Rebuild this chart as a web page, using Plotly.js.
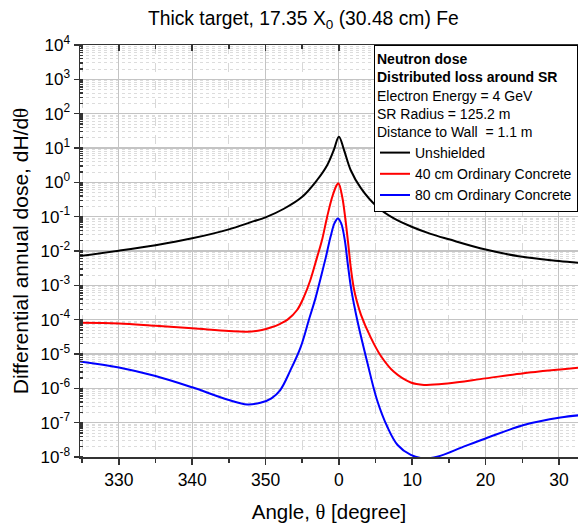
<!DOCTYPE html>
<html>
<head>
<meta charset="utf-8">
<script src="https://cdn.plot.ly/plotly-3.0.1.min.js"></script>
<style>html,body{margin:0;padding:0;background:#fff;}#chart{width:581px;height:523px;}</style>
</head>
<body>
<div id="chart"></div>
<script>
// Angle in degrees relative to 0 (negative values = 325..360 degrees)
const angleBlack = [-35.5,-30,-25,-20,-15,-12,-10,-7.5,-5,-3,-1.6,-0.7,0,0.7,1.6,3,5.2,7.5,10,12.5,15,20,25,30,33.5];
const doseBlack  = [7.08e-3,1.02e-2,1.48e-2,2.34e-2,4.27e-2,6.92e-2,9.55e-2,0.170,0.380,1.15,3.16,8.7,21.4,8.7,2.29,0.676,0.195,0.0891,0.0501,0.0316,0.0219,0.0110,6.76e-3,5.13e-3,4.37e-3];

const angleRed = [-35.5,-30,-25,-20,-15,-12.5,-10.5,-9.3,-8,-7,-5.7,-4.8,-3.9,-3,-2.3,-1.6,-0.9,-0.3,-0.05,0.45,0.9,1.3,1.6,2.0,2.4,3.0,4.3,5.7,7.5,9.8,11.6,14.8,20,25.2,30.2,33.5];
const doseRed  = [8.13e-5,7.76e-5,6.61e-5,5.62e-5,4.68e-5,4.47e-5,5.01e-5,5.89e-5,7.59e-5,1.0e-4,1.91e-4,4.47e-4,1.41e-3,6.31e-3,2.09e-2,0.1,0.380,0.832,0.933,0.380,0.0794,0.0141,3.55e-3,8.91e-4,3.72e-4,1.41e-4,3.16e-5,8.91e-6,3.02e-6,1.48e-6,1.26e-6,1.38e-6,1.95e-6,2.75e-6,3.55e-6,4.17e-6];

const angleBlue = [-35.5,-30,-25,-20,-15,-12.5,-10.7,-9.2,-8,-6.6,-5.2,-4.1,-3.2,-2.5,-1.8,-1.13,-0.6,-0.15,0.3,0.8,1.2,1.7,2.5,3.9,5.2,6.6,8,9.8,11.6,13.4,17,20,25.2,30.2,33.5];
const doseBlue  = [6.17e-6,4.07e-6,2.29e-6,1.07e-6,4.57e-7,3.39e-7,3.80e-7,5.13e-7,8.91e-7,3.39e-6,1.62e-5,9.77e-5,4.17e-4,1.58e-3,6.31e-3,2.63e-2,6.46e-2,8.91e-2,6.46e-2,2.09e-2,4.37e-3,7.24e-4,9.77e-5,5.37e-6,4.57e-7,7.59e-8,2.24e-8,1.15e-8,9.12e-9,1.02e-8,2.0e-8,3.47e-8,8.51e-8,1.41e-7,1.70e-7];

const xTickVals = [-30,-20,-10,0,10,20,30];
const xTickText = ['330','340','350','0','10','20','30'];
const yTickVals = [1e-8,1e-7,1e-6,1e-5,1e-4,1e-3,1e-2,1e-1,1,10,100,1e3,1e4];
const yTickText = ['10<sup>-8</sup>','10<sup>-7</sup>','10<sup>-6</sup>','10<sup>-5</sup>','10<sup>-4</sup>','10<sup>-3</sup>','10<sup>-2</sup>','10<sup>-1</sup>','10<sup>0</sup>','10<sup>1</sup>','10<sup>2</sup>','10<sup>3</sup>','10<sup>4</sup>'];

const FONT = 'Liberation Sans, Arial, sans-serif';
const THETA = '<span style="font-family:Liberation Serif, Times New Roman, serif">\u03b8</span>';
const LINE = {width: 2, shape: 'spline', smoothing: 1, simplify: false};

const traces = [
  {x: angleBlack, y: doseBlack, name: 'Unshielded', mode: 'lines', line: Object.assign({color: '#000000'}, LINE)},
  {x: angleRed, y: doseRed, name: '40 cm Ordinary Concrete', mode: 'lines', line: Object.assign({color: '#ff0000'}, LINE)},
  {x: angleBlue, y: doseBlue, name: '80 cm Ordinary Concrete', mode: 'lines', line: Object.assign({color: '#0000ff'}, LINE)},
  {x: [0], y: [1], xaxis: 'x2', mode: 'markers', marker: {opacity: 0}, showlegend: false, hoverinfo: 'skip'}
];

const layout = {
  width: 581, height: 523,
  margin: {l: 80, r: 3, t: 45, b: 66, autoexpand: false},
  paper_bgcolor: '#ffffff', plot_bgcolor: '#ffffff',
  font: {family: FONT, color: '#000000', size: 17},
  title: {text: 'Thick target, 17.35 X<sub>0</sub> (30.48 cm) Fe', x: 0.522, xanchor: 'center', y: 0.965, yanchor: 'middle', font: {size: 19.3, family: FONT}},
  showlegend: true,
  legend: {
    x: 1, xanchor: 'right', y: 1, yanchor: 'top',
    bgcolor: '#ffffff', bordercolor: '#000000', borderwidth: 1,
    font: {size: 14, family: FONT},
    title: {text: '<b>Neutron dose</b><br><b>Distributed loss around SR</b><br>Electron Energy = 4 GeV<br>SR Radius = 125.2 m<br>Distance to Wall \u00a0= 1.1 m', side: 'top', font: {size: 14, family: FONT}},
    itemwidth: 30, tracegroupgap: 0
  },
  xaxis: {
    automargin: false,
    range: [-35.3, 32.6], tickvals: xTickVals, ticktext: xTickText,
    showline: true, linecolor: '#333333', linewidth: 1.5,
    ticks: 'outside', ticklen: 6, tickcolor: '#333333', tickwidth: 1.5,
    showgrid: true, gridcolor: '#c4c4c4', gridwidth: 1,
    zeroline: false,
    tickfont: {size: 17.5},
    minor: {dtick: 5, tick0: 0, ticks: 'outside', ticklen: 4, tickcolor: '#333333', showgrid: true, gridcolor: '#d8d8d8', griddash: 'dash', gridwidth: 1},
    title: {text: 'Angle, ' + THETA + ' [degree]', font: {size: 20.5}}
  },
  xaxis2: {
    automargin: false,
    overlaying: 'x', matches: 'x', side: 'top', anchor: 'y',
    range: [-35.3, 32.6], tickvals: xTickVals, showticklabels: false,
    showline: true, linecolor: '#333333', linewidth: 1.5,
    ticks: 'inside', ticklen: 6, tickcolor: '#333333', tickwidth: 1.5,
    showgrid: false, zeroline: false,
    minor: {dtick: 5, tick0: 0, ticks: 'inside', ticklen: 4, tickcolor: '#333333', showgrid: false}
  },
  yaxis: {
    automargin: false,
    type: 'log', range: [-8, 4], tickvals: yTickVals, ticktext: yTickText,
    showline: true, linecolor: '#333333', linewidth: 1.5,
    ticks: 'outside', ticklen: 5, tickcolor: '#333333', tickwidth: 1.5,
    showgrid: true, gridcolor: '#c4c4c4', gridwidth: 1.5,
    zeroline: false,
    tickfont: {size: 17},
    minor: {dtick: 'D1', ticks: 'inside', ticklen: 3, tickcolor: '#333333', showgrid: true, gridcolor: '#dcdcdc', griddash: 'dot', gridwidth: 1},
    title: {text: 'Differential annual dose, dH/d' + THETA, font: {size: 21}}
  }
};

Plotly.newPlot('chart', traces, layout, {staticPlot: true, displayModeBar: false});
</script>
</body>
</html>
